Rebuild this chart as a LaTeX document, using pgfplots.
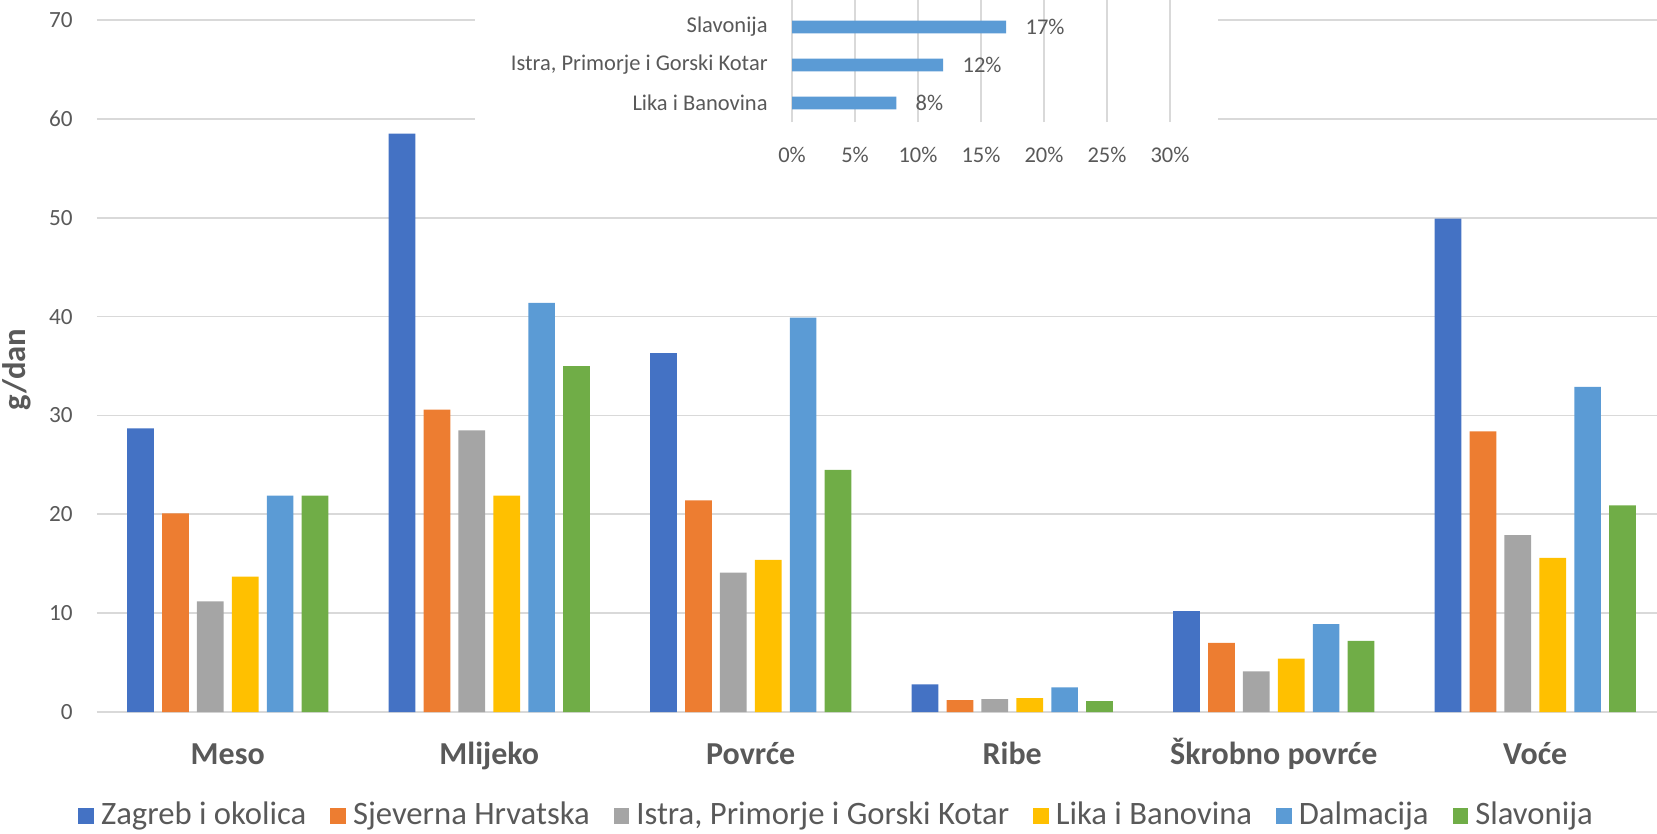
\documentclass[border=0pt]{standalone}
\usepackage{pgfplots}
\pgfplotsset{compat=1.18}
\usepackage{fontspec}
\setmainfont{Carlito}
\definecolor{cA}{HTML}{4472C4}
\definecolor{cB}{HTML}{ED7D31}
\definecolor{cC}{HTML}{A5A5A5}
\definecolor{cD}{HTML}{FFC000}
\definecolor{cE}{HTML}{5B9BD5}
\definecolor{cF}{HTML}{70AD47}
\definecolor{txt}{HTML}{595959}
\definecolor{grd}{HTML}{D9D9D9}
\begin{document}
\begin{tikzpicture}
\useasboundingbox (-0.97,-1.21) rectangle (15.60,7.12);
\begin{scope}[overlay]
\clip (-0.97,-1.21) rectangle (15.60,7.12);
\begin{axis}[
  at={(0,0)}, anchor=south west,
  scale only axis, width=15.69cm, height=6.92cm,
  xmin=-0.5, xmax=5.5, ymin=0, ymax=70,
  ybar=0.082cm, bar width=0.267cm,
  xtick={0,1,2,3,4,5},
  xticklabels={Meso,Mlijeko,Povrće,Ribe,Škrobno povrće,Voće},
  ytick={0,10,...,70},
  /pgf/number format/assume math mode=true,
  axis x line*=bottom, axis y line*=left,
  x axis line style={draw=grd, line width=0.6pt},
  y axis line style={draw=none},
  major tick length=0pt,
  ymajorgrids, grid style={draw=grd, line width=0.5pt},
  yticklabel style={font=\fontsize{6.6pt}{7pt}\selectfont, text=txt, xshift=-0.12cm},
  xticklabel style={font=\fontsize{9.1pt}{10pt}\selectfont\bfseries, text=txt, anchor=base, yshift=-0.52cm},
  ylabel={g/dan},
  ylabel style={at={(axis description cs:-0.051,0.495)}, anchor=center, font=\fontsize{9.3pt}{10pt}\selectfont\bfseries, text=txt},
  legend style={at={(0.473,-0.150)}, anchor=center, draw=none, fill=none,
    legend columns=6, font=\fontsize{9.3pt}{10pt}\selectfont, text=txt,
    /tikz/every even column/.append style={column sep=0.17cm},
    inner sep=0pt},
  legend image code/.code={\fill[#1] (0cm,-0.078cm) rectangle (0.156cm,0.078cm);},
]
\addplot[fill=cA, draw=none] coordinates {(0,28.7) (1,58.5) (2,36.3) (3,2.8) (4,10.2) (5,49.9)};
\addplot[fill=cB, draw=none] coordinates {(0,20.1) (1,30.6) (2,21.4) (3,1.2) (4,7.0) (5,28.4)};
\addplot[fill=cC, draw=none] coordinates {(0,11.2) (1,28.5) (2,14.1) (3,1.3) (4,4.1) (5,17.9)};
\addplot[fill=cD, draw=none] coordinates {(0,13.7) (1,21.9) (2,15.4) (3,1.4) (4,5.4) (5,15.6)};
\addplot[fill=cE, draw=none] coordinates {(0,21.9) (1,41.4) (2,39.9) (3,2.5) (4,8.9) (5,32.9)};
\addplot[fill=cF, draw=none] coordinates {(0,21.9) (1,35.0) (2,24.5) (3,1.1) (4,7.2) (5,20.9)};
\legend{Zagreb i okolica, Sjeverna Hrvatska, {Istra, Primorje i Gorski Kotar}, Lika i Banovina, Dalmacija, Slavonija}
\end{axis}
\fill[white] (3.78,5.42) rectangle (11.21,7.3);
\begin{axis}[
  at={(6.95cm,5.90cm)}, anchor=south west,
  scale only axis, width=3.78cm, height=1.235cm,
  xbar, bar width=0.127cm,
  xmin=0, xmax=30, ymin=-0.5, ymax=2.75,
  xtick={0,5,...,30}, ytick={0,1,2},
  yticklabels={Lika i Banovina,{Istra, Primorje i Gorski Kotar},Slavonija},
  /pgf/number format/assume math mode=true,
  xticklabel={\pgfmathprintnumber[assume math mode=true]{\tick}\%},
  axis line style={draw=none}, major tick length=0pt,
  xmajorgrids, grid style={draw=grd, line width=0.5pt},
  xticklabel style={font=\fontsize{6.4pt}{7pt}\selectfont, text=txt, yshift=-0.13cm},
  yticklabel style={font=\fontsize{6.4pt}{7pt}\selectfont, text=txt, xshift=-0.12cm},
  nodes near coords={\pgfmathprintnumber[fixed,precision=0,assume math mode=true]{\pgfplotspointmeta}\%},
  nodes near coords style={font=\fontsize{6.4pt}{7pt}\selectfont, text=txt, xshift=0.07cm},
]
\addplot[fill=cE, draw=none] coordinates {(8.28,0) (12.0,1) (17.0,2)};
\end{axis}
\end{scope}
\end{tikzpicture}
\end{document}
